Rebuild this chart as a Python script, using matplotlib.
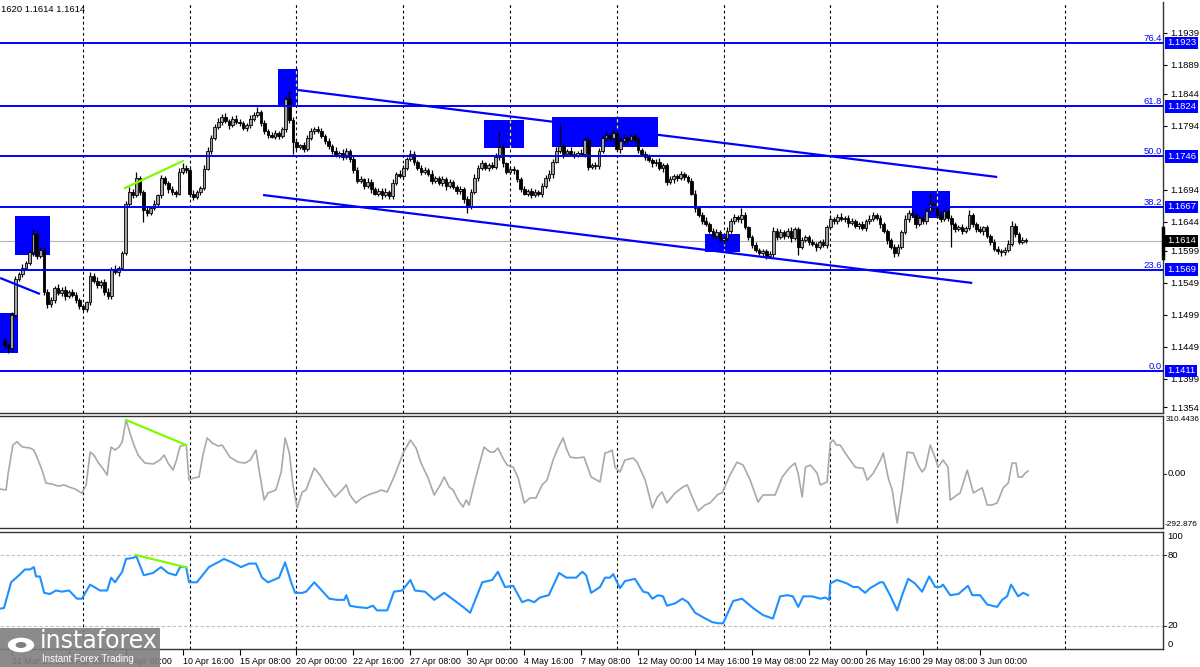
import numpy as np
import matplotlib
matplotlib.use("Agg")
import matplotlib.pyplot as plt
import matplotlib.transforms as mtrans
from matplotlib.patches import Rectangle, Circle

plt.rcParams["font.family"] = ["Liberation Sans", "DejaVu Sans"]

# EURUSD H4, bar 0 = 31 Mar 08:00, prices in 1/10000
closes = [
    11452, 11447, 11498, 11555, 11562, 11572, 11580, 11596, 11625, 11590,
    11600, 11535, 11515, 11522, 11540, 11532, 11538, 11528, 11535, 11530,
    11522, 11512, 11508, 11518, 11560, 11552, 11545, 11550, 11535, 11528,
    11570, 11565, 11572, 11595, 11672, 11690, 11685, 11712, 11690, 11662,
    11658, 11665, 11672, 11685, 11712, 11705, 11695, 11690, 11688, 11722,
    11728, 11725, 11688, 11682, 11690, 11697, 11727, 11755, 11775, 11792,
    11800, 11808, 11802, 11795, 11805, 11800, 11798, 11790, 11795, 11805,
    11810, 11815, 11798, 11785, 11780, 11777, 11782, 11778, 11788, 11835,
    11803, 11768, 11760, 11763, 11758, 11775, 11786, 11789, 11786, 11778,
    11770, 11762, 11755, 11748, 11752, 11745, 11755, 11742, 11725, 11708,
    11710, 11700, 11706, 11695, 11688, 11692, 11685, 11690, 11684, 11705,
    11718, 11716, 11728, 11742, 11750, 11738, 11728, 11722, 11725, 11719,
    11708, 11712, 11705, 11710, 11700, 11706, 11698, 11692, 11695, 11680,
    11668, 11690, 11712, 11728, 11735, 11728, 11732, 11730, 11745, 11760,
    11735, 11722, 11726, 11724, 11710, 11695, 11688, 11692, 11686, 11690,
    11688, 11700, 11712, 11718, 11738, 11755, 11762, 11750, 11755, 11750,
    11748, 11752, 11750, 11772, 11730, 11733, 11731, 11755, 11774, 11780,
    11775, 11782, 11758, 11770, 11775, 11772, 11778, 11773, 11756, 11750,
    11745, 11740, 11735, 11738, 11728, 11732, 11706, 11710, 11715, 11712,
    11718, 11714, 11708, 11688, 11665, 11655, 11645, 11640, 11630, 11622,
    11628, 11615, 11618, 11630, 11645, 11652, 11648, 11655, 11635, 11620,
    11608, 11600, 11595, 11598, 11590, 11594, 11630, 11620, 11628, 11622,
    11630, 11618, 11632, 11605, 11615, 11620, 11612, 11610, 11605, 11612,
    11608, 11635, 11648, 11645, 11652, 11648, 11650, 11642, 11645, 11638,
    11640, 11634, 11645, 11648, 11655, 11650, 11640, 11630, 11615, 11605,
    11595, 11605, 11628, 11648, 11658, 11655, 11640, 11650, 11645, 11660,
    11672, 11665, 11655, 11648, 11660, 11650, 11640, 11632, 11636, 11630,
    11634, 11655, 11640, 11632, 11630, 11635, 11622, 11612, 11602, 11598,
    11596, 11600, 11610, 11638, 11625, 11612, 11616, 11614,
]
first_open = 11458
wick_up = [
    4, 3, 5, 5, 4, 6, 3, 4, 7, 5, 4, 3, 4, 5, 3, 6, 4, 5, 3, 4,
    5, 3, 4, 3, 5, 4, 6, 3, 4, 5, 4, 6, 3, 4, 5, 8, 5, 10, 4, 3,
    5, 4, 6, 3, 5, 4, 3, 5, 4, 6, 7, 4, 3, 5, 4, 3, 5, 6, 4, 5,
    6, 4, 5, 3, 4, 6, 5, 4, 3, 5, 6, 8, 4, 5, 3, 4, 5, 3, 4, 6,
    15, 4, 5, 3, 6, 4, 5, 3, 4, 5, 3, 5, 4, 6, 3, 5, 4, 3, 5, 4,
    5, 3, 6, 4, 3, 5, 4, 6, 3, 5, 4, 6, 5, 3, 6, 4, 3, 5, 4, 3,
    5, 4, 3, 6, 4, 5, 3, 4, 5, 3, 4, 5, 6, 4, 5, 3, 4, 5, 6, 24,
    5, 3, 4, 5, 3, 4, 5, 3, 4, 5, 3, 4, 5, 6, 4, 5, 36, 4, 3, 5,
    4, 3, 5, 6, 4, 3, 5, 4, 6, 5, 3, 5, 4, 6, 4, 5, 3, 4, 5, 3,
    4, 5, 3, 4, 6, 4, 3, 5, 4, 3, 5, 4, 3, 4, 5, 3, 4, 6, 3, 4,
    5, 3, 4, 6, 5, 4, 3, 10, 4, 3, 4, 5, 3, 4, 3, 5, 6, 4, 5, 3,
    4, 6, 3, 4, 5, 3, 4, 5, 3, 4, 5, 4, 6, 3, 4, 5, 3, 4, 5, 3,
    4, 5, 3, 6, 4, 3, 5, 4, 3, 4, 5, 4, 3, 6, 4, 5, 3, 4, 5, 6,
    17, 4, 3, 5, 4, 3, 5, 4, 3, 5, 4, 7, 3, 4, 5, 3, 4, 3, 5, 4,
    3, 4, 5, 7, 4, 3, 4, 2,
]
wick_dn = [
    5, 8, 5, 4, 3, 5, 4, 3, 5, 4, 3, 5, 6, 4, 5, 3, 4, 6, 3, 4,
    5, 4, 3, 5, 4, 3, 5, 4, 6, 5, 4, 3, 5, 4, 3, 5, 4, 3, 5, 18,
    5, 4, 3, 5, 4, 3, 6, 4, 5, 3, 4, 5, 6, 4, 3, 5, 4, 3, 5, 4,
    3, 5, 4, 6, 3, 4, 5, 3, 4, 5, 4, 3, 5, 4, 6, 3, 4, 5, 3, 4,
    5, 18, 4, 3, 5, 4, 3, 5, 4, 3, 5, 4, 6, 3, 4, 5, 3, 4, 5, 4,
    3, 5, 4, 6, 3, 4, 5, 3, 4, 5, 4, 3, 5, 4, 3, 6, 4, 5, 3, 4,
    5, 3, 4, 5, 6, 4, 3, 5, 4, 6, 10, 4, 3, 5, 4, 3, 5, 4, 3, 4,
    5, 4, 3, 6, 4, 5, 3, 4, 5, 3, 4, 5, 3, 4, 5, 3, 4, 6, 3, 4,
    5, 3, 4, 5, 6, 3, 4, 5, 3, 4, 5, 4, 3, 6, 4, 5, 3, 4, 5, 3,
    4, 3, 5, 4, 3, 6, 4, 3, 5, 4, 3, 5, 4, 3, 6, 4, 5, 3, 4, 5,
    4, 3, 5, 4, 3, 5, 4, 6, 3, 4, 5, 4, 3, 6, 4, 3, 5, 4, 3, 5,
    4, 5, 3, 13, 4, 3, 5, 4, 6, 3, 4, 5, 3, 4, 5, 3, 4, 6, 3, 4,
    5, 3, 4, 5, 3, 4, 6, 4, 5, 4, 6, 5, 4, 3, 5, 4, 6, 3, 4, 5,
    4, 3, 5, 4, 3, 5, 36, 4, 3, 5, 4, 3, 5, 4, 3, 6, 4, 5, 3, 4,
    5, 4, 3, 4, 5, 3, 2, 3,
]

cci_x = [-1.3, 0.4, 0.9, 2.3, 3.5, 4.3, 5.1, 7.1, 8.2, 9.4,
         10.5, 11.6, 13.3, 15, 16.7, 18.1, 19.8, 21.7, 22.9, 24,
         25.1, 26.2, 27.9, 28.8, 29.3, 29.9, 31, 32.1, 33, 34.1,
         35.2, 36.3, 37.5, 39.4, 41.7, 43.6, 44.8, 45.9, 47.3, 48.2,
         49.3, 51, 51.8, 53, 54.6, 55.7, 56.9, 58.3, 60, 61.1,
         63.3, 65.6, 67.5, 69, 70.6, 71.5, 72.9, 74, 76.2, 77.7,
         78.8, 80, 81, 82.2, 83.6, 84.7, 87, 88.6, 90, 92.8,
         94.8, 96, 97, 98.7, 100.4, 102.7, 104.6, 105.8, 107.5, 109.4,
         112, 114, 115.6, 117, 119, 120.7, 122.4, 123.5, 124.9, 126,
         127.4, 128.8, 129.7, 130.5, 132.2, 134.7, 136.4, 137.5, 138.6, 140,
         141.2, 142.9, 144.3, 146, 147.6, 149.3, 151, 152.4, 154.1, 155.5,
         156.9, 158, 158.9, 160.6, 162.8, 164.8, 167.3, 168.7, 169.6, 170.7,
         171.5, 172.9, 174.3, 176.6, 177.7, 180, 182, 183.4, 184.7, 186.1,
         188.4, 190.6, 191.8, 193.2, 194.9, 196.8, 198.2, 200.5, 201.6, 203.8,
         205.8, 207.5, 209.5, 211.7, 213.1, 214.2, 216.5, 218.5, 220.7, 222.1,
         223, 224.1, 225, 226.4, 228.3, 229.2, 231.1, 232, 232.8, 233.7,
         234.8, 236.2, 237.6, 239, 240.4, 241.2, 242.4, 244.1, 246.1, 246.9,
         248.3, 249.4, 250.8, 252.2, 253.6, 255.3, 256.7, 257.8, 258.7, 260.1,
         261.5, 262.3, 263.7, 265.1, 265.7, 267.6, 268.5, 270.5, 272.2, 273.6,
         274.7, 276.1, 277.5, 278.9, 280.6, 282, 283.1, 284.2, 284.8, 285.9,
         286.8, 287.6]
cci_y = [-83, -88, -8, 154, 172, 154, 143, 138, 127, 73,
         19, -51, -56, -67, -61, -72, -83, -106, -61, 116,
         100, 62, 19, -8, 73, 143, 127, 143, 170, 289,
         219, 154, 100, 57, 52, 73, 100, 57, 19, 68,
         149, 154, -35, -24, -18, 100, 192, 165, 149, 154,
         89, 62, 57, 73, 127, 19, -142, -104, -88, 9,
         192, 111, -61, -185, -99, -88, 30, -8, -51, -126,
         -88, -61, -115, -158, -131, -110, -99, -88, -99, -18,
         111, 181, 138, 57, -24, -115, -61, -18, -72, -88,
         -142, -180, -142, -169, -35, 143, 116, 116, 138, 84,
         46, 35, -24, -158, -131, -131, -61, -35, 73, 138,
         192, 127, 89, 84, 89, -18, -45, 111, 116, 127,
         35, 9, 73, 84, 62, -35, -185, -126, -99, -158,
         -104, -72, -61, -126, -201, -169, -158, -110, -104, -8,
         62, 46, -35, -153, -115, -115, -115, -18, 35, 57,
         -2, -126, 35, 46, 3, -61, -45, 165, 181, 154,
         154, 111, 73, 35, 30, 30, -35, 3, 73, 111,
         -24, -88, -266, -88, 116, 111, 46, 9, 30, 154,
         84, 35, 73, 35, -142, -115, -104, 19, -104, -88,
         -77, -169, -169, -158, -77, -51, 57, 57, -18, -18,
         3, 14]

sto_x = [-1.3, -0.2, 1.8, 4, 5.7, 7.1, 8.2, 8.8, 9.9, 11.1,
         12.7, 14.4, 16.1, 18.1, 20.3, 21.7, 24, 26.8, 28.8, 29.9,
         31, 33, 34.1, 36.3, 36.9, 39.1, 41.7, 43.9, 45.9, 48.1,
         49.3, 51, 51.8, 54, 57.4, 60.5, 61.6, 63.9, 66.4, 68.7,
         70.6, 72.3, 74, 77.1, 78.8, 80.5, 81.6, 83.6, 84.7, 87,
         91.2, 93.4, 95.4, 96, 97, 98.7, 101.8, 103.5, 104.6, 107.5,
         109.4, 111.7, 114, 115.3, 118.1, 120.7, 123.5, 125.7, 128.8, 130.8,
         132.5, 134.2, 137, 138.6, 140.6, 142.9, 145.4, 147.1, 148.8, 150.4,
         152.9, 155.8, 157.8, 160.6, 162.3, 163.4, 164.8, 167.3, 168.7, 170.1,
         171, 172.9, 174.3, 177.1, 179.4, 180.8, 182, 183.6, 185, 186.1,
         188.4, 190.4, 192, 194, 196.3, 198.8, 200.5, 201.9, 204.7, 207.2,
         210.3, 213.1, 215.9, 217.9, 219.9, 221.5, 223, 224.4, 226.9, 229.2,
         230.6, 231.7, 232, 233.9, 236.7, 238.4, 239.8, 241.8, 243.2, 246,
         246.9, 248.8, 250.8, 252.2, 253.9, 255.8, 257.8, 259.8, 261.5, 262.9,
         263.7, 265.7, 268, 270.7, 271.9, 274.1, 276.1, 278.9, 280.3, 281.7,
         282.8, 284.8, 286.2, 287.6]
sto_y = [34.5, 35, 57, 63, 68, 68, 70, 62, 62, 48,
         47, 50, 49, 50, 43, 43, 55, 50, 50, 61,
         57, 66, 77, 78, 80, 63, 65, 70, 65, 63,
         70, 70, 57, 57, 70, 75, 77, 74, 70, 73,
         73, 61, 57, 61, 74, 57, 48, 48, 49, 57,
         43, 42, 42, 46, 37, 36, 35, 37, 33, 33,
         49, 50, 59, 50, 49, 42, 48, 43, 36, 31,
         44, 57, 59, 66, 53, 54, 40, 42, 40, 44,
         46, 65, 61, 61, 66, 63, 48, 53, 61, 61,
         64, 52, 58, 60, 49, 48, 43, 46, 45, 37,
         39, 43, 40, 31, 27, 23, 22, 22, 41, 43,
         35, 29, 26, 45, 46, 45, 36, 45, 45, 43,
         44, 42, 56, 59, 56, 53, 53, 48, 52, 57,
         57, 46, 33, 46, 60, 56, 49, 62, 53, 53,
         55, 46, 47, 54, 46, 46, 38, 36, 42, 45,
         55, 45, 48, 46]

fib_levels = [1.1923, 1.1824, 1.1746, 1.1667, 1.1569, 1.1411]
fib_names = ["76.4", "61.8", "50.0", "38.2", "23.6", "0.0"]
last_price = 1.1614
price_ticks = [1.1939, 1.1889, 1.1844, 1.1794, 1.1694, 1.1644, 1.1599,
               1.1549, 1.1499, 1.1449, 1.1399, 1.1354]
cci_range = (-292.876, 310.4436)

week_starts = [22, 52, 82, 112, 142, 172, 202, 232, 262, 298]
time_bars = [2, 18, 34, 50, 66, 82, 98, 114, 130, 146, 162, 178, 194, 210,
             226, 242, 258, 274]
time_labels = ["31 Mar 16:00", "3 Apr 08:00", "8 Apr 00:00", "10 Apr 16:00",
               "15 Apr 08:00", "20 Apr 00:00", "22 Apr 16:00", "27 Apr 08:00",
               "30 Apr 00:00", "4 May 16:00", "7 May 08:00", "12 May 00:00",
               "14 May 16:00", "19 May 08:00", "22 May 00:00", "26 May 16:00",
               "29 May 08:00", "3 Jun 00:00"]

# rectangles drawn on the chart (bar from, bar to, price low, price high)
zone_b0 = [-1.32, 2.9, 76.8, 134.7, 153.8, 196.8, 255.0]
zone_b1 = [3.7, 12.7, 82.4, 146.0, 183.6, 206.7, 265.7]
zone_lo = [1.14391, 1.15921, 1.18262, 1.17591, 1.17607, 1.15967, 1.16498]
zone_hi = [1.15015, 1.16530, 1.18824, 1.18028, 1.18075, 1.16248, 1.16920]

# trend lines: (bar0, bar1, value0, value1)
chan_top = (82.4, 278.9, 1.18496, 1.17138)
chan_bot = (72.6, 271.9, 1.16857, 1.15484)
old_line = (-1.3, 9.9, 1.15562, 1.15312)
div_price = (33.8, 50.1, 1.16966, 1.17388)
div_cci = (34.1, 51.0, 289, 154)
div_sto = (36.9, 51.0, 80.3, 69.8)

W, H = 1200, 667
fig = plt.figure(figsize=(W / 100, H / 100), dpi=100)
fig.patch.set_facecolor("white")


def ax_px(x0, y0, x1, y1):
    return fig.add_axes([x0 / W, 1 - y1 / H, (x1 - x0) / W, (y1 - y0) / H])


main = ax_px(0, 2, 1163, 413)
cci = ax_px(0, 416, 1163, 528)
sto = ax_px(0, 532, 1163, 649)
XL = (-1.32, 325.5)
BLUE = "#0000ff"
GREEN = "#7cfc00"
FS = 6.8

for ax in (main, cci, sto):
    ax.set_xlim(*XL)
    ax.spines["left"].set_visible(False)
    for s in ("right", "bottom", "top"):
        ax.spines[s].set_color("#333333")
        ax.spines[s].set_linewidth(1.0)
    for w in week_starts:
        ax.axvline(w, color="black", lw=0.8, ls=(0, (2.5, 2.5)), zorder=1)
    ax.tick_params(axis="y", left=False, labelleft=False, right=True,
                   labelright=True, length=3, width=0.8, pad=2, labelsize=FS)
main.spines["top"].set_visible(False)

# --- price panel ---
main.set_ylim(1.13454, 1.19870)
main.set_xticks([])
main.set_yticks(price_ticks)
main.set_yticklabels([f"{t:.4f}" for t in price_ticks])

for b0, b1, lo_, hi_ in zip(zone_b0, zone_b1, zone_lo, zone_hi):
    main.add_patch(Rectangle((b0, lo_), b1 - b0, hi_ - lo_, fc=BLUE, ec="none", zorder=2))
    for w in week_starts:
        if b0 < w < b1:
            main.plot([w, w], [lo_, hi_], color="#ffff00", lw=0.9, ls=(0, (2.5, 2.5)), zorder=2.5)

main.axhline(last_price, color="#b4b4b4", lw=0.8, zorder=1.5)

c = np.array(closes) / 10000
o = np.r_[first_open / 10000, c[:-1]]
hi = np.maximum(o, c) + np.array(wick_up) / 10000
lo = np.minimum(o, c) - np.array(wick_dn) / 10000
idx = np.arange(len(c))
bull = c >= o
body = np.maximum(np.abs(c - o), 0.00012)
main.vlines(idx, lo, hi, color="black", lw=0.9, zorder=4)
main.bar(idx[bull], body[bull], 0.75, bottom=np.minimum(o, c)[bull],
         color="#a2a2a2", edgecolor="black", linewidth=0.6, zorder=5)
main.bar(idx[~bull], body[~bull], 0.75, bottom=np.minimum(o, c)[~bull],
         color="black", edgecolor="black", linewidth=0.6, zorder=5)

blend = mtrans.blended_transform_factory(main.transAxes, main.transData)
for lvl, name in zip(fib_levels, fib_names):
    main.axhline(lvl, color=BLUE, lw=1.4, zorder=6)
    main.text(0.9992, lvl + 0.00004, name, transform=blend, ha="right", va="bottom",
              color=BLUE, fontsize=FS, zorder=7)
    main.text(1.0035, lvl, f"{lvl:.4f}", transform=blend, ha="left", va="center",
              color="white", fontsize=FS, zorder=8, clip_on=False,
              bbox=dict(boxstyle="square,pad=0.2", fc=BLUE, ec="none"))
main.text(1.0035, last_price, f"{last_price:.4f}", transform=blend, ha="left",
          va="center", color="white", fontsize=FS, zorder=9, clip_on=False,
          bbox=dict(boxstyle="square,pad=0.2", fc="black", ec="none"))
main.plot([1, 1], [1.1634, 1.1587], transform=blend, color="black", lw=2.5,
          clip_on=False, zorder=9)

for ln in (chan_top, chan_bot, old_line):
    main.plot(ln[:2], ln[2:], color=BLUE, lw=1.6, zorder=6, solid_capstyle="butt")
main.plot(div_price[:2], div_price[2:], color=GREEN, lw=1.6, zorder=6)

# --- CCI panel ---
cci.set_ylim(*cci_range)
cci.set_xticks([])
cci.set_yticks([])
cci.tick_params(axis="y", right=False)
cci.plot(cci_x, cci_y, color="#a9a9a9", lw=1.2, zorder=3)
cci.plot(div_cci[:2], div_cci[2:], color=GREEN, lw=1.6, zorder=4)
cblend = mtrans.blended_transform_factory(cci.transAxes, cci.transData)
cci.text(1.0025, cci_range[1], f"{cci_range[1]:.4f}", transform=cblend, va="top",
         fontsize=5.9, clip_on=False)
cci.text(1.004, 0, "0.00", transform=cblend, va="center", fontsize=FS, clip_on=False)
cci.text(1.0018, cci_range[0], f"{cci_range[0]:.3f}", transform=cblend, va="bottom",
         fontsize=6.0, clip_on=False)
cci.plot([1, 1.0022], [0, 0], transform=cblend, color="#333333", lw=0.8, clip_on=False)

# --- stochastic panel ---
sto.set_ylim(0, 100)
sto.set_yticks([])
sto.tick_params(axis="y", right=False)
for lv in (80, 20):
    sto.axhline(lv, color="#c0c0c0", lw=0.8, ls=(0, (3, 2)), zorder=1)
sto.plot(sto_x, sto_y, color="#1e90ff", lw=1.5, zorder=3)
sto.plot(div_sto[:2], div_sto[2:], color=GREEN, lw=1.6, zorder=4)
sblend = mtrans.blended_transform_factory(sto.transAxes, sto.transData)
for v, va in ((100, "top"), (80, "center"), (20, "center"), (0, "bottom")):
    sto.text(1.004, v, str(v), transform=sblend, va=va, fontsize=FS, clip_on=False)
    if va == "center":
        sto.plot([1, 1.0022], [v, v], transform=sblend, color="#333333", lw=0.8, clip_on=False)

sto.set_xticks(time_bars)
sto.set_xticklabels(time_labels, ha="left", fontsize=6.4)
sto.tick_params(axis="x", length=4, width=0.8, pad=1.5)

fig.text(1 / W, 1 - 10 / H, "1620 1.1614 1.1614", fontsize=FS, va="center")

# instaforex logo
fig.patches.append(Rectangle((0, 0), 160 / W, 39 / H, transform=fig.transFigure,
                             fc="#7f7f7f", ec="none", alpha=0.9, zorder=10))
fig.patches.append(Circle((21 / W, 1 - 645 / H), 0.011, transform=fig.transFigure,
                          fc="white", ec="none", zorder=11))
fig.patches.append(Circle((21 / W, 1 - 645 / H), 0.0045, transform=fig.transFigure,
                          fc="#7f7f7f", ec="none", zorder=12))
fig.text(40 / W, 1 - 641 / H, "instaforex", color="white", fontsize=17,
         family="DejaVu Sans", va="center", ha="left", zorder=12)
fig.text(42 / W, 1 - 659 / H, "Instant Forex Trading", color="white", fontsize=7,
         va="center", ha="left", zorder=12)

fig.savefig("out.png", dpi=100)
